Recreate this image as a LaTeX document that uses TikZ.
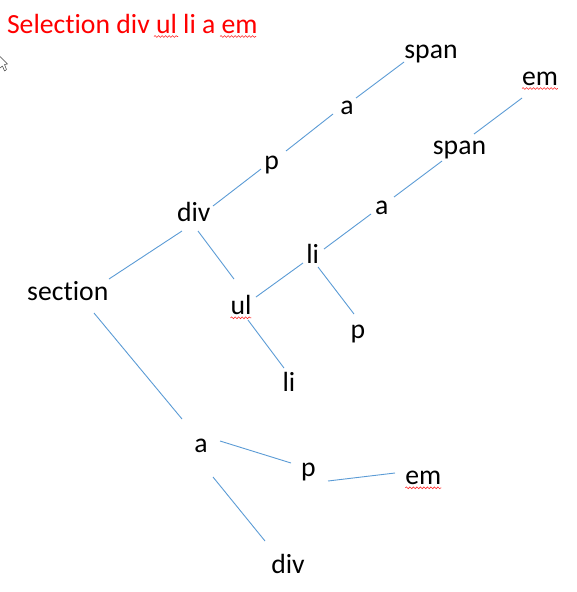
\documentclass[tikz,border=0pt]{standalone}
\usepackage{fontspec}
\setmainfont{Carlito}[Ligatures={NoCommon,NoContextual}]
\usetikzlibrary{decorations.pathmorphing}
\definecolor{linkblue}{RGB}{91,155,213}
\definecolor{titlered}{RGB}{255,0,0}
\tikzset{
  lbl/.style={inner sep=0pt, outer sep=0pt, anchor=base, font=\fontsize{27.7}{30}\selectfont, text=black},
  link/.style={draw=linkblue, line width=0.9pt},
  squig/.style={draw=red!85!white, line width=0.6pt, decorate, decoration={snake, segment length=3.5pt, amplitude=0.9pt}},
}
\begin{document}
\begin{tikzpicture}[x=1pt, y=-1pt]
\useasboundingbox (0,0) rectangle (576,592);
% title
\node[lbl, anchor=base west, text=titlered] (title) at (7,33.5) {Selection div ul li a em};
\draw[squig] ([shift={(147,3)}]title.base west) -- ([shift={(171,3)}]title.base west);
\draw[squig] ([shift={(213,3)}]title.base west) -- ([shift={(249,3)}]title.base west);
% cursor
\draw[black!75, fill=white, line width=0.5pt, line join=round]
  (0,56.5) -- (7.5,64) -- (4.5,64.5) -- (6.5,69.5) -- (4.5,71) -- (2.5,66) -- (0,68);
% nodes
\node[lbl] (spanT) at (431,58.2) {span};
\node[lbl] (emT) at (540,85.5) {em};
\node[lbl] (aT) at (347,114.8) {a};
\node[lbl] (pT) at (271.7,169.8) {p};
\node[lbl] (divT) at (193.8,221.5) {div};
\node[lbl] (section) at (67.8,300.8) {section};
\node[lbl] (ul) at (241,314.8) {ul};
\node[lbl] (aM) at (381.7,214.2) {a};
\node[lbl] (spanM) at (459.5,154.8) {span};
\node[lbl] (liM) at (312.7,263.2) {li};
\node[lbl] (pR) at (357.8,338.2) {p};
\node[lbl] (liL) at (289,391.5) {li};
\node[lbl] (aL) at (201,452.2) {a};
\node[lbl] (pL) at (308.3,476.5) {p};
\node[lbl] (divL) at (288,573.2) {div};
\node[lbl] (emL) at (423.3,484.8) {em};
% squiggles
\draw[squig] ([shift={(0,3)}]emT.base west) -- ([shift={(0,3)}]emT.base east);
\draw[squig] ([shift={(0,3)}]ul.base west) -- ([shift={(0,3)}]ul.base east);
\draw[squig] ([shift={(0,3)}]emL.base west) -- ([shift={(0,3)}]emL.base east);
% connectors
\draw[link] ([shift={(9,-16.8)}]aT.base) -- ([shift={(-27,3.8)}]spanT.base);
\draw[link] ([shift={(14.3,-18.8)}]pT.base) -- ([shift={(-14,-0.8)}]aT.base);
\draw[link] ([shift={(19.2,-15.5)}]divT.base) -- ([shift={(-10.7,-0.8)}]pT.base);
\draw[link] ([shift={(41.2,-21.8)}]section.base) -- ([shift={(-11.8,9.5)}]divT.base);
\draw[link] ([shift={(4.2,9.5)}]divT.base) -- ([shift={(-7,-35.8)}]ul.base);
\draw[link] ([shift={(26.2,12.2)}]section.base) -- ([shift={(-19,-33.2)}]aL.base);
\draw[link] ([shift={(15,-17.8)}]ul.base) -- ([shift={(-9.7,-0.2)}]liM.base);
\draw[link] ([shift={(7,5.2)}]ul.base) -- ([shift={(-5,-23.5)}]liL.base);
\draw[link] ([shift={(11.3,-14.2)}]liM.base) -- ([shift={(-10.7,-0.2)}]aM.base);
\draw[link] ([shift={(12.3,-17.2)}]aM.base) -- ([shift={(-17.5,6.2)}]spanM.base);
\draw[link] ([shift={(14.5,-20.8)}]spanM.base) -- ([shift={(-18,12.5)}]emT.base);
\draw[link] ([shift={(5.3,3.8)}]liM.base) -- ([shift={(-3.8,-24.2)}]pR.base);
\draw[link] ([shift={(19,-11.2)}]aL.base) -- ([shift={(-17.3,-13.5)}]pL.base);
\draw[link] ([shift={(12,24.8)}]aL.base) -- ([shift={(-23,-32.2)}]divL.base);
\draw[link] ([shift={(19.7,4.5)}]pL.base) -- ([shift={(-28.3,-11.8)}]emL.base);
\end{tikzpicture}
\end{document}
